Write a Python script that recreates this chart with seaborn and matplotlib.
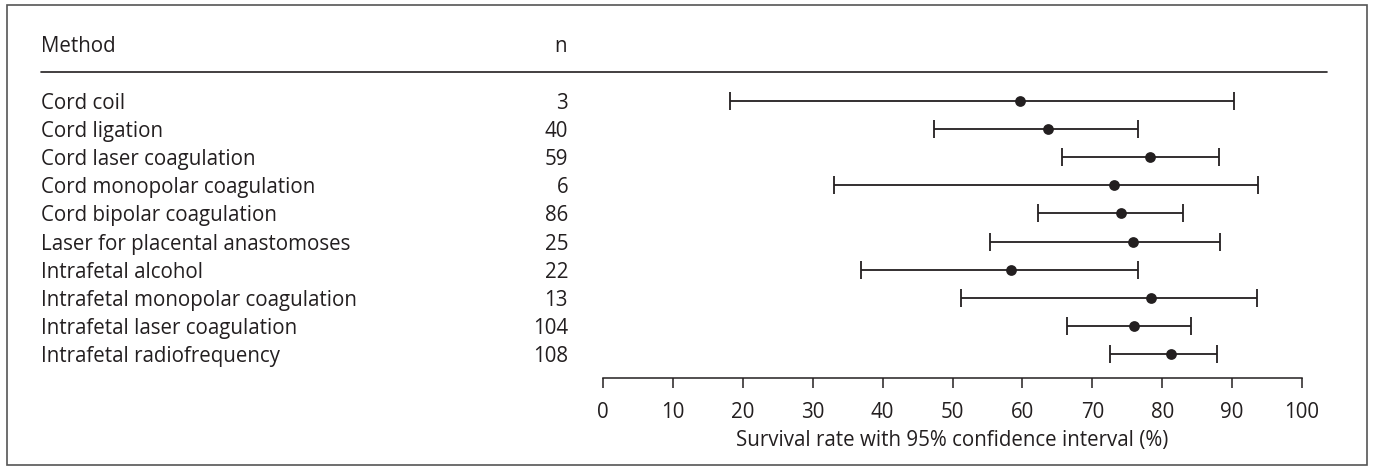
import matplotlib
matplotlib.use("Agg")
import matplotlib.pyplot as plt
import matplotlib.transforms as mtransforms
import seaborn as sns
import pandas as pd

methods = [
    "Cord coil",
    "Cord ligation",
    "Cord laser coagulation",
    "Cord monopolar coagulation",
    "Cord bipolar coagulation",
    "Laser for placental anastomoses",
    "Intrafetal alcohol",
    "Intrafetal monopolar coagulation",
    "Intrafetal laser coagulation",
    "Intrafetal radiofrequency",
]
n_cases = [3, 40, 59, 6, 86, 25, 22, 13, 104, 108]
survival = [59.7, 63.7, 78.3, 73.1, 74.1, 75.8, 58.3, 78.4, 76.0, 81.3]
ci_low = [18.2, 47.4, 65.6, 33.0, 62.3, 55.3, 36.9, 51.2, 66.4, 72.5]
ci_high = [90.3, 76.5, 88.1, 93.7, 83.0, 88.3, 76.5, 93.6, 84.1, 87.9]
x_ticks = [0, 10, 20, 30, 40, 50, 60, 70, 80, 90, 100]

df = pd.DataFrame({
    "method": methods,
    "n": n_cases,
    "rate": survival,
    "low": ci_low,
    "high": ci_high,
})
df["row"] = range(len(df))

sns.set_theme(style="white")
plt.rcParams["font.family"] = ["Open Sans", "DejaVu Sans"]
ink = "#231f20"
fs = 14.8

W, H = 1373, 469
fig = plt.figure(figsize=(W / 100, H / 100), dpi=100)

# plot area: x 0..100 spans px 603..1302, spine at y=378
ax = fig.add_axes([603 / W, 1 - 378 / H, (1302 - 603) / W, (378 - 72) / H])

row_top, row_gap = 101, 28.1
ax.set_ylim((378 - row_top) / row_gap, -(row_top - 72) / row_gap)
ax.set_xlim(0, 100)

ax.errorbar(df["rate"], df["row"],
            xerr=[df["rate"] - df["low"], df["high"] - df["rate"]],
            fmt="none", ecolor=ink, elinewidth=1.3, capsize=6.5, capthick=1.3)
sns.scatterplot(data=df, x="rate", y="row", ax=ax, color=ink, s=60,
                edgecolor=ink, linewidth=0, zorder=3)

ax.set_xticks(x_ticks)
ax.set_xticklabels([str(t) for t in x_ticks], fontsize=fs, color=ink)
ax.set_yticks([])
ax.set_ylabel("")
ax.set_xlabel("Survival rate with 95% confidence interval (%)", fontsize=fs,
              color=ink, labelpad=5)
ax.tick_params(axis="x", direction="out", length=7, width=1.1, color=ink,
               bottom=True, pad=10)
for side in ["top", "right", "left"]:
    ax.spines[side].set_visible(False)
ax.spines["bottom"].set_color(ink)
ax.spines["bottom"].set_linewidth(1.1)
ax.patch.set_alpha(0)

# table columns on the left
tr = mtransforms.blended_transform_factory(fig.transFigure, ax.transData)
for _, r in df.iterrows():
    ax.text(41 / W, r["row"], r["method"], transform=tr, ha="left",
            va="center_baseline", fontsize=fs, color=ink)
    ax.text(568 / W, r["row"], str(r["n"]), transform=tr, ha="right",
            va="center_baseline", fontsize=fs, color=ink)

fig.text(41 / W, 1 - 44 / H, "Method", ha="left", va="center_baseline",
         fontsize=fs, color=ink)
fig.text(560 / W, 1 - 44 / H, "n", ha="center", va="center_baseline",
         fontsize=fs, color=ink)
fig.add_artist(plt.Line2D([41 / W, 1327 / W], [1 - 72 / H, 1 - 72 / H],
                          color=ink, linewidth=1.2, transform=fig.transFigure))

# outer frame
fig.add_artist(plt.Rectangle((7 / W, 1 - 465 / H), (1367 - 7) / W,
                             (465 - 5) / H, fill=False, edgecolor="#555555",
                             linewidth=1.2, transform=fig.transFigure))

fig.savefig("out.png", dpi=100)
